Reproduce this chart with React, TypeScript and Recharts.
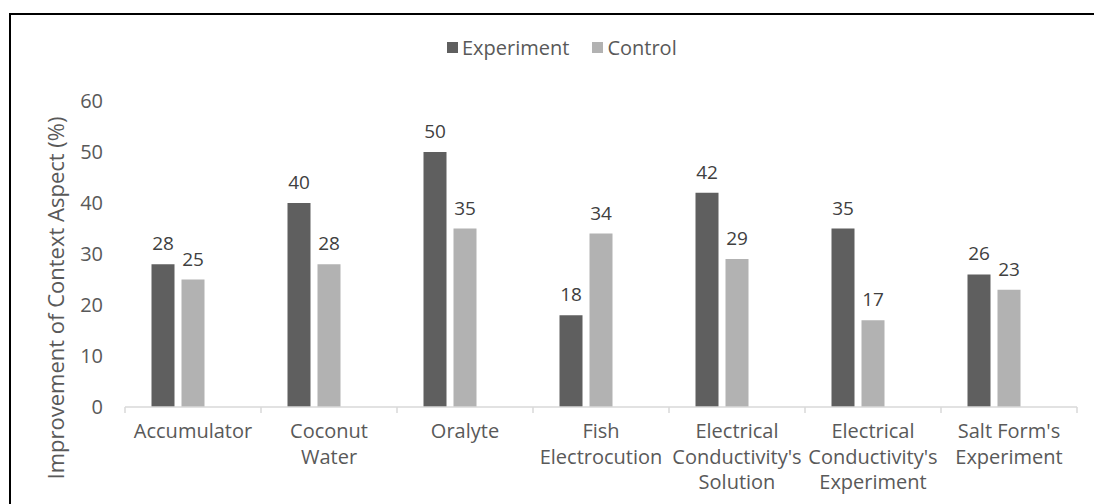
import { Bar, BarChart, LabelList, Legend, XAxis, YAxis } from 'recharts';

const categories = [
  'Accumulator',
  'Coconut\nWater',
  'Oralyte',
  'Fish\nElectrocution',
  "Electrical\nConductivity's\nSolution",
  "Electrical\nConductivity's\nExperiment",
  "Salt Form's\nExperiment",
];
const experimentValues = [28, 40, 50, 18, 42, 35, 26];
const controlValues = [25, 28, 35, 34, 29, 17, 23];
const yTicks = [0, 10, 20, 30, 40, 50, 60];

const data = categories.map((name, i) => ({
  name,
  experiment: experimentValues[i],
  control: controlValues[i],
}));

const FONT = '"Open Sans", sans-serif';
const DARK = '#5f5f5f';
const LIGHT = '#b2b2b2';

function CategoryTick(props: any) {
  const { x, y, payload, index } = props;
  const lines = String(payload.value).split('\n');
  const half = 68;
  return (
    <g>
      <line x1={x - half} x2={x - half} y1={y} y2={y + 6} stroke="#d9d9d9" strokeWidth={1.5} />
      {index === categories.length - 1 && (
        <line x1={x + half} x2={x + half} y1={y} y2={y + 6} stroke="#d9d9d9" strokeWidth={1.5} />
      )}
      <text x={x} y={y + 31} textAnchor="middle" fill="#595959" fontSize={20} fontFamily={FONT}>
        {lines.map((line, i) => (
          <tspan key={i} x={x} dy={i === 0 ? 0 : 25.5}>
            {line}
          </tspan>
        ))}
      </text>
    </g>
  );
}

function LegendContent() {
  const items = [
    { label: 'Experiment', color: DARK },
    { label: 'Control', color: LIGHT },
  ];
  return (
    <div style={{ display: 'flex', alignItems: 'center', fontFamily: FONT, fontSize: 20, color: '#595959' }}>
      {items.map((item) => (
        <div key={item.label} style={{ display: 'flex', alignItems: 'center', marginRight: 23 }}>
          <span style={{ width: 11, height: 11, background: item.color, marginRight: 4, display: 'inline-block' }} />
          <span>{item.label}</span>
        </div>
      ))}
    </div>
  );
}

export default function App() {
  return (
    <div style={{ position: 'fixed', left: 0, top: 0, width: 1094, height: 504, overflow: 'hidden', background: '#fff' }}>
      <div
        style={{
          position: 'absolute',
          left: 9,
          top: 13,
          width: 1120,
          height: 540,
          border: '2px solid #000',
          boxSizing: 'border-box',
        }}
      />
      <div style={{ position: 'absolute', left: 8, top: 8 }}>
        <BarChart
          width={1078}
          height={488}
          data={data}
          margin={{ top: 93, right: 9, bottom: 59, left: 57 }}
          barCategoryGap={26.5}
          barGap={7}
        >
          <Legend
            verticalAlign="middle"
            layout="horizontal"
            content={() => <LegendContent />}
            wrapperStyle={{ position: 'absolute', top: 26, left: 439, width: 400 }}
          />
          <XAxis
            dataKey="name"
            height={30}
            interval={0}
            tickLine={false}
            tickSize={0}
            tickMargin={0}
            axisLine={{ stroke: '#d9d9d9', strokeWidth: 1.5 }}
            tick={<CategoryTick />}
          />
          <YAxis
            width={60}
            domain={[0, 60]}
            ticks={yTicks}
            axisLine={false}
            tickLine={false}
            tickSize={0}
            tickMargin={22}
            tick={{ fill: '#595959', fontSize: 20, fontFamily: FONT }}
            label={{
              content: () => (
                <text
                  x={47}
                  y={290}
                  transform="rotate(-90, 47, 290)"
                  textAnchor="middle"
                  dominantBaseline="central"
                  fill="#595959"
                  fontSize={22}
                  fontFamily={FONT}
                >
                  Improvement of Context Aspect (%)
                </text>
              ),
            }}
          />
          <Bar dataKey="experiment" name="Experiment" fill={DARK} isAnimationActive={false}>
            <LabelList dataKey="experiment" position="top" offset={14} fill="#404040" fontSize={19} fontFamily={FONT} />
          </Bar>
          <Bar dataKey="control" name="Control" fill={LIGHT} isAnimationActive={false}>
            <LabelList dataKey="control" position="top" offset={14} fill="#404040" fontSize={19} fontFamily={FONT} />
          </Bar>
          <Bar dataKey="blank" legendType="none" fill="none" isAnimationActive={false} />
        </BarChart>
      </div>
    </div>
  );
}
